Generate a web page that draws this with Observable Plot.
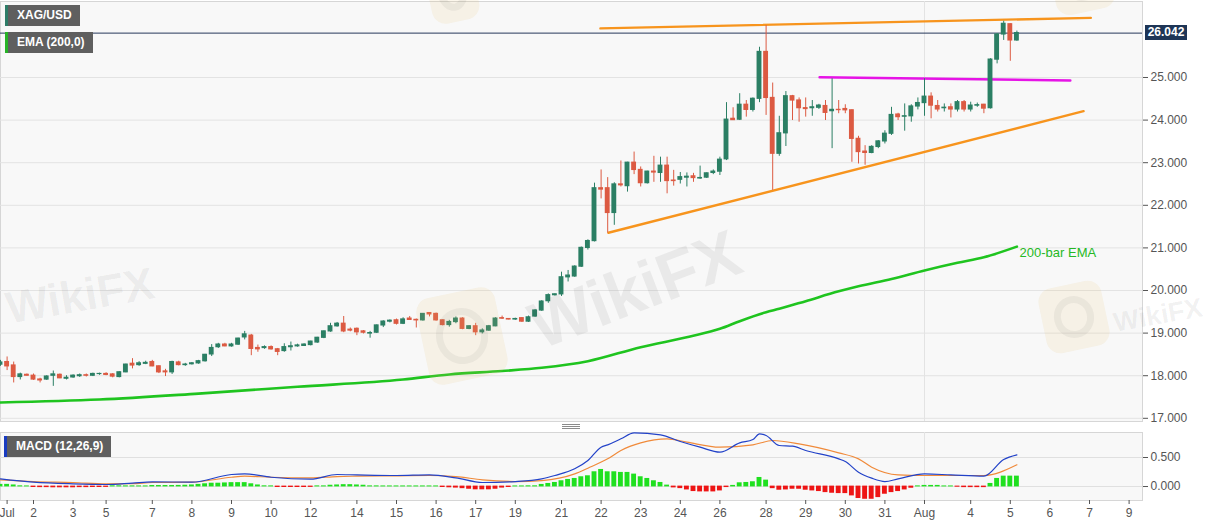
<!DOCTYPE html>
<html><head><meta charset="utf-8">
<script src="https://cdn.jsdelivr.net/npm/d3@7"></script>
<script src="https://cdn.jsdelivr.net/npm/@observablehq/plot@0.6"></script>
<style>
body{margin:0;background:#fff;font-family:"Liberation Sans",Arial,sans-serif;}
#wrap{position:relative;width:1207px;height:526px;overflow:hidden;background:#fff;}
#main{position:absolute;left:0;top:0;}
#macd{position:absolute;left:0;top:424px;}
.tag{position:absolute;background:#5f5f5f;color:#fff;font-weight:bold;font-size:12px;height:21px;line-height:21px;padding:0 8px 0 9px;border-left:3px solid;box-sizing:border-box;white-space:nowrap;}
#last{position:absolute;left:1145px;width:42px;height:15px;line-height:15px;background:#1e3556;color:#fff;font-size:12px;font-weight:bold;text-align:center;}
#split{position:absolute;left:562px;top:424px;width:18px;}
#split div{height:1px;background:#8a8a8a;margin-bottom:1px;}
.wm{position:absolute;font-family:"Liberation Sans",Arial,sans-serif;font-weight:bold;color:rgba(60,60,60,0.075);white-space:nowrap;pointer-events:none;text-align:center;}
.logo{position:absolute;border-radius:14px;background:rgba(235,195,110,0.13);pointer-events:none;}
.logo div{position:absolute;left:18%;top:18%;width:64%;height:64%;border-radius:50%;border:7px solid rgba(80,80,80,0.07);box-sizing:border-box;}
</style></head><body>
<div id="wrap">
  <div id="main"></div>
  <div id="macd"></div>
  <div class="logo" style="left:422px;top:292px;width:80px;height:88px;transform:rotate(-12deg);"><div></div></div>
  <div class="logo" style="left:1042px;top:284px;width:64px;height:66px;transform:rotate(-12deg);"><div></div></div>
  <div class="logo" style="left:428px;top:-40px;width:48px;height:62px;transform:rotate(-12deg);"><div></div></div>
  <div class="logo" style="left:1052px;top:-48px;width:60px;height:60px;transform:rotate(-12deg);"><div></div></div>
  <div class="wm" style="left:5px;top:272px;width:150px;font-size:45px;line-height:48px;transform:rotate(-10deg);">WikiFX</div>
  <div class="wm" style="left:522px;top:254px;width:226px;font-size:66px;line-height:70px;transform:rotate(-21deg);">WikiFX</div>
  <div class="wm" style="left:1112px;top:300px;width:92px;font-size:27px;line-height:30px;transform:rotate(-10deg);">WikiFX</div>
  <div class="tag" style="left:5px;top:5px;border-color:#2e7d68;">XAG/USD</div>
  <div class="tag" style="left:5px;top:32px;border-color:#27b327;">EMA (200,0)</div>
  <div class="tag" style="left:4px;top:436px;border-color:#1a3cc0;">MACD (12,26,9)</div>
  <div id="last"></div>
  <div id="split"><div></div><div></div><div></div></div>
</div>
<script>
// ---- candle data (4-hour bars), first bar index = -5 ----
const startIndex = -5;
const open  = [18.26,18.32,18.24,17.97,18.02,18.00,17.91,17.91,18.00,18.02,17.93,17.96,17.99,18.01,18.00,18.04,18.04,18.03,17.97,18.08,18.28,18.25,18.28,18.32,18.22,18.10,18.08,18.31,18.25,18.27,18.29,18.34,18.50,18.67,18.73,18.69,18.73,18.90,18.94,18.65,18.65,18.67,18.62,18.58,18.67,18.69,18.70,18.72,18.78,18.89,19.04,19.16,19.22,19.08,19.10,19.04,18.99,19.01,19.18,19.27,19.30,19.22,19.34,19.31,19.30,19.47,19.45,19.30,19.19,19.26,19.34,19.10,19.16,19.02,19.06,19.16,19.35,19.33,19.32,19.35,19.27,19.39,19.53,19.75,19.89,19.91,20.31,20.33,20.56,21.00,21.16,22.40,22.40,21.82,22.49,22.45,23.00,22.83,22.52,22.79,22.76,22.93,22.58,22.60,22.65,22.68,22.63,22.65,22.76,22.79,23.08,24.03,24.01,24.36,24.24,24.50,25.60,24.52,23.21,23.69,24.56,24.46,24.28,24.28,24.29,24.33,24.21,24.24,24.26,24.23,23.56,23.26,23.23,23.37,23.50,23.68,24.13,24.08,24.09,24.32,24.40,24.55,24.33,24.28,24.30,24.25,24.42,24.25,24.34,24.36,24.28,25.42,26.01,26.25,25.87];
const high  = [18.36,18.44,18.32,18.06,18.04,18.04,17.94,18.00,18.11,18.04,18.00,18.02,18.04,18.04,18.06,18.06,18.07,18.05,18.09,18.27,18.40,18.33,18.34,18.36,18.23,18.15,18.34,18.34,18.29,18.31,18.36,18.50,18.73,18.76,18.76,18.76,18.88,19.04,18.97,18.72,18.70,18.70,18.64,18.75,18.79,18.74,18.75,18.81,18.90,19.05,19.23,19.25,19.39,19.12,19.12,19.06,19.04,19.19,19.29,19.31,19.33,19.36,19.39,19.33,19.46,19.47,19.47,19.31,19.30,19.38,19.36,19.17,19.23,19.10,19.18,19.36,19.40,19.34,19.35,19.36,19.40,19.55,19.76,19.92,19.92,20.43,20.47,20.58,21.02,21.19,22.52,22.83,22.65,22.53,23.04,23.01,23.25,22.90,22.80,23.15,23.13,23.13,22.82,22.77,22.76,22.75,22.92,22.76,22.83,23.13,24.41,24.29,24.62,24.46,24.52,25.71,26.22,24.87,24.09,24.67,24.58,24.52,24.52,24.46,24.37,24.46,24.97,24.46,24.36,24.24,23.62,23.40,23.40,23.52,23.75,24.30,24.16,24.38,24.36,24.52,24.97,24.64,24.46,24.38,24.38,24.46,24.46,24.42,24.40,24.37,25.44,26.03,26.32,26.26,26.09];
const low   = [18.22,18.12,17.83,17.90,17.99,17.89,17.83,17.89,17.75,17.93,17.90,17.94,17.96,17.97,17.98,18.01,18.00,17.95,17.95,18.07,18.16,18.22,18.26,18.21,18.05,17.98,18.03,18.23,18.22,18.25,18.27,18.32,18.45,18.64,18.68,18.67,18.71,18.84,18.47,18.55,18.62,18.60,18.47,18.55,18.58,18.67,18.69,18.70,18.76,18.87,19.02,19.14,19.01,19.03,18.94,18.98,18.88,18.99,19.13,19.24,19.19,19.20,19.30,19.12,19.28,19.38,19.28,19.17,19.14,19.22,19.08,19.08,18.94,18.98,19.04,19.15,19.32,19.31,19.30,19.25,19.25,19.37,19.51,19.70,19.87,19.86,20.20,20.31,20.54,20.95,21.14,22.15,21.35,21.53,22.43,22.31,22.72,22.43,22.50,22.54,22.54,22.27,22.45,22.50,22.43,22.54,22.61,22.63,22.72,22.70,23.05,23.99,23.99,24.07,24.19,24.41,24.11,22.35,23.15,23.38,23.99,23.95,24.07,24.09,24.25,23.99,23.33,24.15,24.15,23.01,22.97,22.94,23.21,23.33,23.44,23.64,23.99,23.74,23.95,24.24,24.09,24.03,24.19,24.19,24.05,24.19,24.19,24.19,24.30,24.15,24.26,25.32,25.87,25.38,25.85];
const close = [18.31,18.22,17.97,18.03,18.00,17.91,17.89,17.98,18.03,17.94,17.95,18.00,18.01,18.00,18.04,18.04,18.02,17.98,18.08,18.26,18.24,18.29,18.30,18.22,18.08,18.08,18.32,18.25,18.26,18.29,18.34,18.49,18.65,18.73,18.69,18.73,18.87,18.97,18.63,18.62,18.67,18.62,18.56,18.67,18.69,18.71,18.73,18.80,18.89,19.04,19.16,19.22,19.04,19.06,19.02,19.01,19.00,19.18,19.27,19.29,19.22,19.32,19.31,19.30,19.45,19.44,19.30,19.19,19.26,19.34,19.10,19.16,19.02,19.06,19.16,19.34,19.34,19.32,19.33,19.27,19.37,19.53,19.74,19.89,19.91,20.31,20.35,20.56,21.00,21.16,22.40,22.37,21.82,22.49,22.47,23.00,22.83,22.52,22.79,22.77,22.93,22.57,22.57,22.66,22.67,22.64,22.64,22.75,22.79,23.07,24.01,24.00,24.36,24.24,24.50,25.60,24.52,23.21,23.69,24.56,24.46,24.28,24.26,24.30,24.34,24.17,24.24,24.235,24.23,23.56,23.25,23.23,23.37,23.50,23.68,24.12,24.07,24.09,24.32,24.40,24.55,24.34,24.25,24.29,24.25,24.42,24.25,24.34,24.35,24.27,25.42,26.01,26.26,25.87,26.042];
const lastPrice = 26.042;

// ---- 200-bar EMA ----
const emaIdx = [-5,10,25,40,56,63,71,77,84,92,99.5,104,107,111,113,117,122,125,130,135,140,144,149];
const emaVal = [17.37,17.44,17.58,17.74,17.91,18.03,18.11,18.185,18.34,18.67,18.92,19.10,19.28,19.49,19.57,19.75,19.98,20.10,20.27,20.47,20.65,20.78,21.03];

// ---- drawn trend lines ----
const resistIdx = [85.9,160.2],  resistVal = [26.153,26.40];
const supportIdx = [87.1,159.1], supportVal = [21.355,24.21];
const pinkIdx = [119.1,157.1],   pinkVal = [25.007,24.93];

// ---- MACD (12,26,9) ----
const histogram = [
  0.03,0.03,0.02,0.005,0.003,
  -0.01,-0.012,-0.012,-0.015,-0.015,-0.015,-0.015,-0.012,-0.012,-0.01,-0.01,-0.008,
  0.005,0.005,0.004,0.004,0.003,0.003,0.01,0.01,0.01,0.01,0.012,
  0.015,0.02,0.03,0.04,0.05,0.05,0.055,0.06,0.06,0.06,0.04,0.02,0.005,
  0.004,-0.01,-0.01,-0.01,-0.01,-0.01,-0.008,0.004,
  0.004,0.015,0.02,0.025,0.025,0.02,0.015,0.004,0.004,
  0.003,0.003,0.003,0.003,0.003,0.003,0.003,0.003,0.003,
  -0.01,-0.015,-0.02,-0.03,-0.04,-0.05,-0.05,-0.05,-0.04,-0.02,
  -0.01,0.003,0.003,0.005,0.005,
  0.029,0.046,0.063,0.092,0.115,0.132,0.161,0.178,0.247,0.287,0.247,0.247,0.236,0.236,0.207,0.161,0.132,0.092,0.063,0.017,
  -0.017,-0.029,-0.052,-0.08,-0.086,-0.086,-0.086,-0.069,-0.011,
  0.012,0.057,0.063,0.075,0.149,0.103,
  -0.03,-0.057,-0.052,-0.04,-0.04,-0.057,-0.069,-0.08,-0.098,-0.109,-0.115,-0.115,-0.155,-0.2,-0.213,-0.213,-0.184,-0.126,-0.098,-0.08,-0.052,-0.023,
  0.004,0.012,0.012,0.012,0.003,0.003,
  -0.005,-0.012,-0.012,-0.012,-0.012,
  0.046,0.132,0.172,0.172,0.172];
const macdIdx  = [-5,0,6,11,15,18,24,30,32,36,42,46,49,55,60,64,68,73,77,79,82,84,86,87,89,91,95,98,101,104,107,109,110,111,113,115,117,122,123,125,127,129,131,135,139,144,147,149];
const macdLine = [0.132,0.075,0.046,0.035,0.06,0.08,0.075,0.207,0.218,0.16,0.126,0.207,0.20,0.19,0.20,0.149,0.069,0.086,0.132,0.19,0.305,0.448,0.678,0.718,0.822,0.925,0.89,0.776,0.678,0.592,0.753,0.81,0.908,0.879,0.707,0.695,0.621,0.477,0.431,0.247,0.144,0.086,0.132,0.218,0.20,0.178,0.466,0.546];
const signalIdx  = [-5,0,6,11,15,18,24,30,32,36,42,46,49,55,60,64,68,73,77,82,84,87,89,92,96,99,104,109,112,116,122,125,127,131,135,144,149];
const signalLine = [0.115,0.086,0.069,0.046,0.05,0.069,0.075,0.16,0.178,0.16,0.15,0.172,0.178,0.184,0.19,0.172,0.115,0.086,0.103,0.218,0.316,0.477,0.621,0.753,0.822,0.764,0.678,0.718,0.793,0.736,0.581,0.477,0.333,0.201,0.19,0.19,0.374];

// ---- axes ----
const priceTicks = [17,18,19,20,21,22,23,24,25];
const macdTicks = [0,0.5];
const dayTickIdx = [-4,0,6,11,18,24,30,36,42,49,55,61,67,73,80,86,92,98,104,111,117,123,129,135,142,148,154,160,166];
const dayTickLabels = ["Jul","2","3","5","7","8","9","10","12","14","15","16","17","19","21","22","23","24","26","28","29","30","31","Aug","4","5","6","7","9"];
const monthStartIdx = [135];

// ---- build tables ----
const UP = "#2b7f64", DOWN = "#dc5a42";
const candles = open.map((o,k)=>({i:startIndex+k,o,h:high[k],l:low[k],c:close[k]}));
const ema = emaIdx.map((i,k)=>({i,v:emaVal[k]}));
const line2 = (a,b)=>a.map((i,k)=>({i,v:b[k]}));
const hist = histogram.map((h,k)=>({i:startIndex+k,h}));
const macdPts = macdIdx.map((i,k)=>({i,m:macdLine[k]}));
const sigPts = signalIdx.map((i,k)=>({i,s:signalLine[k]}));

const W = 1207, XDOM = [-5, 168.03];
const font = "Liberation Sans, Arial, sans-serif";
const half = 0.37;

const main = Plot.plot({
  width: W, height: 424, marginTop: 1, marginBottom: 3, marginLeft: 0, marginRight: 65,
  x: {domain: XDOM, axis: null},
  y: {domain: [16.925, 26.784], axis: null},
  style: {background: "transparent", color: "#555", fontFamily: font, fontSize: "12px"},
  marks: [
    Plot.frame({fill: "#f8f8f8", stroke: "#d6d6d6"}),
    Plot.ruleY(priceTicks, {stroke: "#e3e3e3"}),
    Plot.ruleX(monthStartIdx, {stroke: "#e3e3e3"}),
    Plot.line(ema, {x: "i", y: "v", stroke: "#1fc41f", strokeWidth: 2.6, curve: "monotone-x"}),
    Plot.text(["200-bar EMA"], {x: [149.4], y: [20.88], textAnchor: "start", fill: "#25b825", fontSize: 13}),
    Plot.line(line2(resistIdx, resistVal), {x: "i", y: "v", stroke: "#f7941d", strokeWidth: 2.4}),
    Plot.line(line2(supportIdx, supportVal), {x: "i", y: "v", stroke: "#f7941d", strokeWidth: 2.4}),
    Plot.line(line2(pinkIdx, pinkVal), {x: "i", y: "v", stroke: "#e614e6", strokeWidth: 2.4}),
    Plot.ruleY([lastPrice], {stroke: "#26385a", strokeWidth: 1}),
    Plot.ruleX(candles, {x: "i", y1: "l", y2: "h", stroke: d => d.c >= d.o ? UP : DOWN, strokeWidth: 1, clip: true}),
    Plot.rect(candles, {x1: d => d.i - half, x2: d => d.i + half, y1: "o", y2: "c",
      fill: d => d.c >= d.o ? UP : DOWN, insetTop: -0.6, insetBottom: -0.6, clip: true}),
    Plot.axisY({anchor: "right", ticks: priceTicks, tickFormat: d => d.toFixed(3), tickSize: 5, tickPadding: 3, fontSize: 12, label: null})
  ]
});
document.getElementById("main").appendChild(main);

const lastY = main.scale("y").apply(lastPrice);
const lastEl = document.getElementById("last");
lastEl.textContent = lastPrice.toFixed(3);
lastEl.style.top = (lastY - 7.5) + "px";

const macd = Plot.plot({
  width: W, height: 102, marginTop: 8, marginBottom: 26, marginLeft: 0, marginRight: 65,
  x: {domain: XDOM, label: null},
  y: {domain: [-0.241, 0.931], axis: null},
  style: {background: "transparent", color: "#555", fontFamily: font, fontSize: "12px"},
  marks: [
    Plot.frame({fill: "#f8f8f8", stroke: "#d6d6d6"}),
    Plot.ruleY(macdTicks, {stroke: "#e0e0e0"}),
    Plot.ruleX(monthStartIdx, {stroke: "#e3e3e3"}),
    Plot.rect(hist, {x1: d => d.i - half, x2: d => d.i + half, y1: 0, y2: "h",
      fill: d => d.h >= 0 ? "#1fe01f" : "#ee1414", insetTop: -0.4, insetBottom: -0.4, clip: true}),
    Plot.line(sigPts, {x: "i", y: "s", stroke: "#f08a3a", strokeWidth: 1.2, curve: "monotone-x"}),
    Plot.line(macdPts, {x: "i", y: "m", stroke: "#2242c8", strokeWidth: 1.2, curve: "monotone-x"}),
    Plot.axisY({anchor: "right", ticks: macdTicks, tickFormat: d => d.toFixed(3), tickSize: 5, tickPadding: 3, fontSize: 12, label: null}),
    Plot.axisX({ticks: dayTickIdx, tickFormat: d => dayTickLabels[dayTickIdx.indexOf(d)], tickSize: 4, tickPadding: 4, fontSize: 12, label: null})
  ]
});
document.getElementById("macd").appendChild(macd);
</script>
</body></html>
